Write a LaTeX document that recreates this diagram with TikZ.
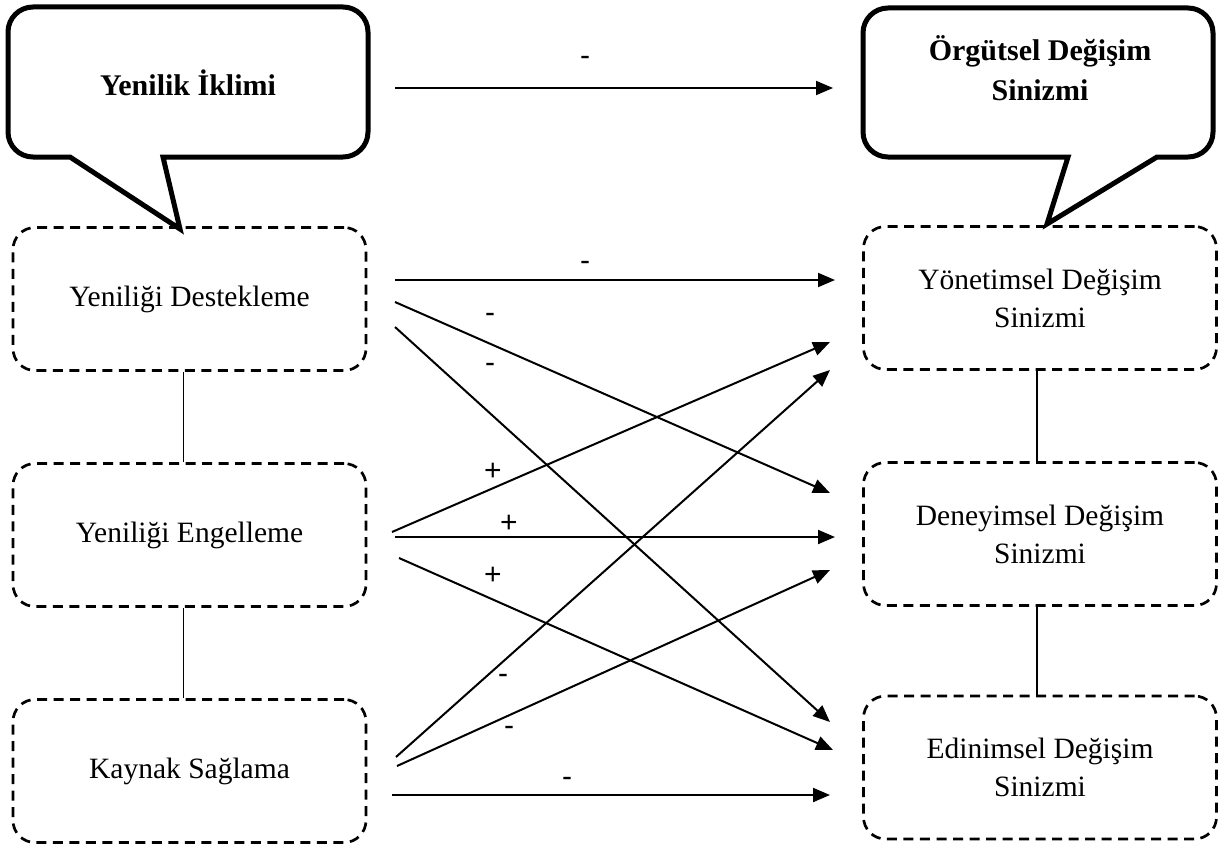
\documentclass[tikz,border=0pt]{standalone}
\usepackage{fontspec}
\setmainfont{Liberation Serif}
\newfontfamily\lblfont{Liberation Sans}
\usetikzlibrary{arrows.meta}
\begin{document}
\begin{tikzpicture}[x=1pt,y=-1pt,
  box/.style={draw, dash pattern=on 10pt off 6.5pt, line width=2.7pt, rounded corners=22pt,
    minimum width=353pt, minimum height=143pt, align=center, inner sep=0pt,
    font=\fontsize{29.5}{38}\selectfont},
  callout/.style={draw, line width=5pt, line join=miter, fill=white},
  ctext/.style={align=center, font=\bfseries\fontsize{30}{40}\selectfont},
  link/.style={line width=1.5pt},
  arr/.style={line width=2pt, -{Triangle[length=17pt,width=14pt]}},
  lbl/.style={font=\lblfont\fontsize{30}{32}\selectfont, inner sep=0pt}
]
\useasboundingbox (0,0) rectangle (1220,843);

% callouts
\draw[callout] (70,157) [rounded corners=25pt] -- (8,157) -- (8,7) -- (368,7) -- (368,157) [sharp corners] -- (163,157) -- (180,229) -- cycle;
\node[ctext] (clim) at (188,83) {Yenilik İklimi};
\draw[callout] (1068,157) [rounded corners=25pt] -- (863,157) -- (863,8) -- (1213,8) -- (1213,157) [sharp corners] -- (1157,157) -- (1047,224) -- cycle;
\node[ctext] (corg) at (1040,68) {Örgütsel Değişim\\Sinizmi};

% boxes
\node[box] (L1) at (189.5,299) {Yeniliği Destekleme};
\node[box] (L2) at (189.5,535) {Yeniliği Engelleme};
\node[box] (L3) at (189.5,771) {Kaynak Sağlama};
\node[box] (R1) at (1040,298) {Yönetimsel Değişim\\Sinizmi};
\node[box] (R2) at (1040,534) {Deneyimsel Değişim\\Sinizmi};
\node[box] (R3) at (1040,767.5) {Edinimsel Değişim\\Sinizmi};

\draw[link] ([xshift=-6pt]L1.south) -- ([xshift=-6pt]L2.north);
\draw[link] ([xshift=-6pt]L2.south) -- ([xshift=-6pt]L3.north);
\draw[link] ([xshift=-3pt]R1.south) -- ([xshift=-3pt]R2.north);
\draw[link] ([xshift=-3pt]R2.south) -- ([xshift=-3pt]R3.north);

% connector end points
\coordinate (a0s) at (395,88);  \coordinate (a0e) at (833,88);
\coordinate (d1s) at (395,280); \coordinate (d1e) at (835,280);
\coordinate (d2s) at (395,302); \coordinate (d2e) at (830,493);
\coordinate (d3s) at (395,327); \coordinate (d3e) at (830,722);
\coordinate (e1s) at (392,532); \coordinate (e1e) at (830,342);
\coordinate (e2s) at (395,537); \coordinate (e2e) at (835,537);
\coordinate (e3s) at (399,558); \coordinate (e3e) at (833,750);
\coordinate (k1s) at (396,757); \coordinate (k1e) at (830,370);
\coordinate (k2s) at (397,766); \coordinate (k2e) at (830,570);
\coordinate (k3s) at (392,795); \coordinate (k3e) at (830,795);

\draw[arr] (a0s) -- (a0e);
\draw[arr] (d1s) -- (d1e);
\draw[arr] (d2s) -- (d2e);
\draw[arr] (d3s) -- (d3e);
\draw[arr] (e1s) -- (e1e);
\draw[arr] (e2s) -- (e2e);
\draw[arr] (e3s) -- (e3e);
\draw[arr] (k1s) -- (k1e);
\draw[arr] (k2s) -- (k2e);
\draw[arr] (k3s) -- (k3e);

% labels
\node[lbl] (m0) at (585,61) {-};
\node[lbl] (m1) at (585,266) {-};
\node[lbl] (m2) at (490,318) {-};
\node[lbl] (m3) at (490,368) {-};
\node[lbl] (p1) at (493,472) {+};
\node[lbl] (p2) at (509,524) {+};
\node[lbl] (p3) at (493,576) {+};
\node[lbl] (m4) at (503,679) {-};
\node[lbl] (m5) at (509,731) {-};
\node[lbl] (m6) at (567,782) {-};
\end{tikzpicture}
\end{document}
